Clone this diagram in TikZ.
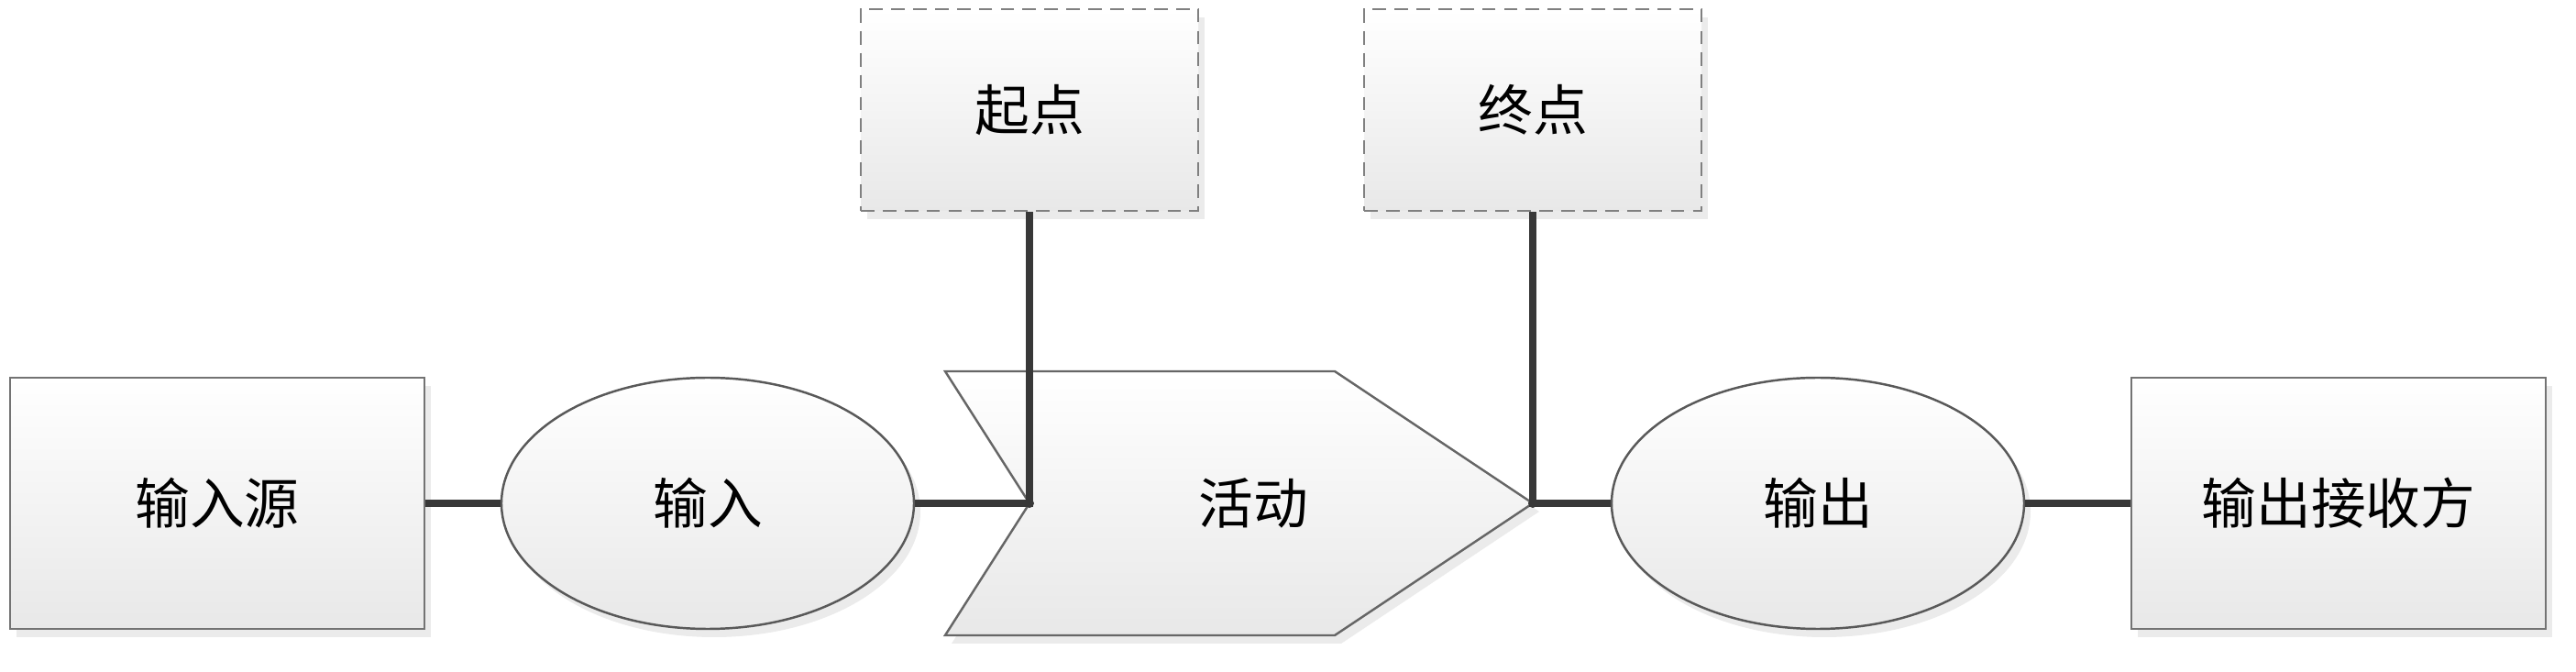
\documentclass[tikz,border=0pt]{standalone}
\usepackage{fontspec}
\newfontfamily\cjk{Noto Sans CJK SC}
\usepackage{tikz}
\usetikzlibrary{positioning, shadows, shapes.geometric}
\newcommand\Lnk{black!78}

\begin{document}
\begin{tikzpicture}[font=\cjk\fontsize{17}{20}\selectfont,
    shade/.style={top color=white, bottom color=black!9, drop shadow={opacity=0.16, shadow xshift=0.07cm, shadow yshift=-0.09cm}},
    srcbox/.style={shade, draw=black!55, line width=0.8pt, minimum width=4.52cm, minimum height=2.74cm, inner sep=0pt},
    notebox/.style={shade, draw=black!50, line width=0.8pt, dash pattern=on 4.2pt off 2.6pt, minimum width=3.68cm, minimum height=2.2cm, inner sep=0pt},
    oval/.style={shade, ellipse, draw=black!65, line width=0.7pt, minimum width=4.5cm, minimum height=2.74cm, inner sep=0pt},
    link/.style={draw=\Lnk, line width=2.2pt}]
    \useasboundingbox (0,0) rectangle (28.10,7.33);
    % main row
    \node [srcbox] (src) at (2.37,1.84) {输入源};
    \node [oval] (inp) at (7.72,1.84) {输入};
    \path [shade, draw=black!60, line width=0.7pt] (10.31,3.28) -- (14.56,3.28) -- (16.72,1.84) -- (14.56,0.40) -- (10.31,0.40) -- (11.23,1.84) -- cycle;
    \coordinate (actin) at (11.23,1.84);
    \coordinate (actout) at (16.72,1.84);
    \node (act) at (13.67,1.84) {活动};
    \node [oval] (out) at (19.83,1.84) {输出};
    \node [srcbox] (recv) at (25.51,1.84) {输出接收方};
    % notes on top
    \foreach \nm/\x/\txt in {start/11.23/起点, end/16.72/终点}{
        \node [notebox] (\nm) at (\x,6.13) {\txt};
    }
    % links
    \draw [link] (src.east) -- (inp.west);
    \draw [link] (inp.east) -| (start.south);
    \draw [link] (out.west) -| (end.south);
    \draw [link] (out.east) -- (recv.west);
    \foreach \c in {actin, actout}
        \fill [\Lnk] (\c) circle (0.05);
\end{tikzpicture}
\end{document}
